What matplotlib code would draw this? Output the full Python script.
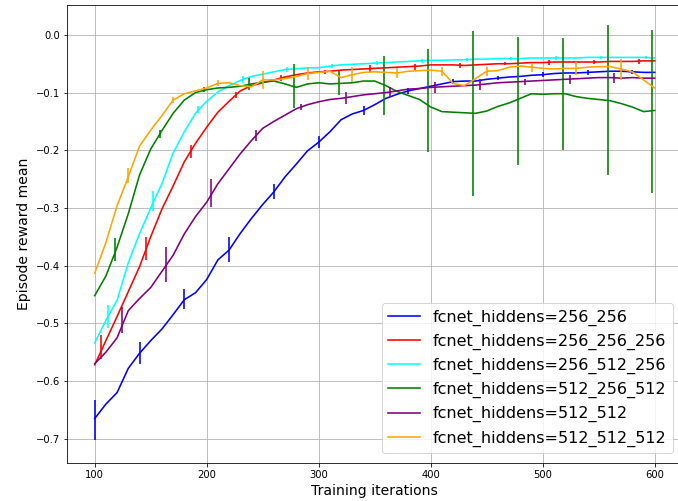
import numpy as np
import matplotlib
matplotlib.use("Agg")
import matplotlib.pyplot as plt

iterations = list(range(100, 601, 10))

labels = ["fcnet_hiddens=256_256", "fcnet_hiddens=256_256_256",
          "fcnet_hiddens=256_512_256", "fcnet_hiddens=512_256_512",
          "fcnet_hiddens=512_512", "fcnet_hiddens=512_512_512"]
colors = ["blue", "red", "cyan", "green", "purple", "orange"]

blue_y = [-0.665, -0.640, -0.620, -0.578, -0.552, -0.530, -0.510, -0.485, -0.459, -0.447,
          -0.424, -0.390, -0.373, -0.344, -0.318, -0.294, -0.272, -0.246, -0.224, -0.201,
          -0.186, -0.168, -0.147, -0.137, -0.131, -0.121, -0.110, -0.103, -0.097, -0.093,
          -0.089, -0.085, -0.081, -0.080, -0.080, -0.077, -0.075, -0.073, -0.072, -0.070,
          -0.069, -0.067, -0.066, -0.066, -0.065, -0.064, -0.063, -0.063, -0.064, -0.065,
          -0.065]
red_y = [-0.572, -0.530, -0.488, -0.445, -0.402, -0.350, -0.302, -0.262, -0.220, -0.188,
         -0.160, -0.134, -0.115, -0.097, -0.088, -0.083, -0.078, -0.073, -0.069, -0.066,
         -0.064, -0.063, -0.061, -0.060, -0.059, -0.058, -0.057, -0.056, -0.055, -0.054,
         -0.052, -0.052, -0.052, -0.053, -0.052, -0.051, -0.050, -0.050, -0.049, -0.048,
         -0.048, -0.047, -0.047, -0.047, -0.047, -0.047, -0.046, -0.046, -0.046, -0.045,
         -0.045]
cyan_y = [-0.534, -0.495, -0.460, -0.395, -0.345, -0.300, -0.258, -0.205, -0.168, -0.136,
          -0.115, -0.099, -0.088, -0.079, -0.072, -0.068, -0.064, -0.060, -0.059, -0.057,
          -0.057, -0.054, -0.052, -0.051, -0.050, -0.049, -0.048, -0.047, -0.046, -0.045,
          -0.044, -0.044, -0.0435, -0.043, -0.042, -0.042, -0.041, -0.041, -0.041, -0.040,
          -0.040, -0.040, -0.040, -0.040, -0.039, -0.039, -0.039, -0.039, -0.039, -0.039,
          -0.040]
green_y = [-0.452, -0.418, -0.368, -0.310, -0.243, -0.198, -0.166, -0.136, -0.113, -0.100,
           -0.095, -0.092, -0.091, -0.089, -0.085, -0.082, -0.080, -0.085, -0.091, -0.085,
           -0.083, -0.085, -0.084, -0.083, -0.080, -0.080, -0.088, -0.098, -0.105, -0.112,
           -0.125, -0.133, -0.134, -0.135, -0.136, -0.132, -0.124, -0.118, -0.110, -0.102,
           -0.103, -0.102, -0.102, -0.107, -0.110, -0.112, -0.114, -0.119, -0.125, -0.133,
           -0.131]
purple_y = [-0.570, -0.550, -0.525, -0.478, -0.457, -0.438, -0.410, -0.382, -0.345, -0.315,
            -0.290, -0.258, -0.232, -0.206, -0.183, -0.162, -0.150, -0.139, -0.128, -0.121,
            -0.116, -0.112, -0.110, -0.107, -0.104, -0.102, -0.100, -0.097, -0.094, -0.093,
            -0.091, -0.090, -0.089, -0.088, -0.087, -0.085, -0.083, -0.082, -0.081, -0.080,
            -0.079, -0.078, -0.077, -0.076, -0.075, -0.074, -0.074, -0.075, -0.074, -0.075,
            -0.075]
orange_y = [-0.413, -0.360, -0.296, -0.246, -0.193, -0.165, -0.140, -0.113, -0.102, -0.097,
            -0.092, -0.084, -0.083, -0.088, -0.090, -0.078, -0.078, -0.076, -0.072, -0.067,
            -0.065, -0.063, -0.074, -0.069, -0.065, -0.064, -0.065, -0.066, -0.063, -0.062,
            -0.061, -0.063, -0.084, -0.088, -0.076, -0.063, -0.062, -0.056, -0.054, -0.056,
            -0.058, -0.059, -0.058, -0.058, -0.056, -0.055, -0.055, -0.059, -0.064, -0.078,
            -0.092]

# error bars (x position, centre, half-length)
blue_ex = [100, 140, 180, 220, 260, 300, 340, 380, 420, 460, 500, 540, 580]
blue_ey = [-0.668, -0.552, -0.458, -0.372, -0.272, -0.186, -0.131, -0.097, -0.081, -0.075, -0.069, -0.065, -0.064]
blue_eh = [0.035, 0.019, 0.018, 0.021, 0.013, 0.010, 0.007, 0.005, 0.004, 0.004, 0.004, 0.004, 0.004]

red_ex = [106, 146, 186, 226, 266, 306, 346, 386, 426, 466, 506, 546, 586]
red_ey = [-0.541, -0.370, -0.202, -0.104, -0.075, -0.064, -0.058, -0.055, -0.053, -0.050, -0.048, -0.047, -0.046]
red_eh = [0.020, 0.020, 0.011, 0.005, 0.005, 0.004, 0.006, 0.005, 0.004, 0.003, 0.004, 0.003, 0.005]

cyan_ex = [112, 152, 192, 232, 272, 312, 352, 392, 432, 472, 512, 552, 592]
cyan_ey = [-0.488, -0.288, -0.130, -0.077, -0.060, -0.054, -0.049, -0.045, -0.043, -0.041, -0.040, -0.039, -0.039]
cyan_eh = [0.020, 0.017, 0.006, 0.006, 0.005, 0.003, 0.003, 0.003, 0.003, 0.003, 0.003, 0.003, 0.003]

green_ex = [118, 158, 198, 238, 278, 318, 358, 398, 438, 478, 518, 558, 598]
green_ey = [-0.372, -0.172, -0.095, -0.085, -0.089, -0.084, -0.088, -0.114, -0.137, -0.114, -0.102, -0.113, -0.133]
green_eh = [0.020, 0.007, 0.004, 0.011, 0.038, 0.021, 0.051, 0.089, 0.143, 0.111, 0.097, 0.130, 0.141]

purple_ex = [124, 164, 204, 244, 284, 324, 364, 404, 444, 484, 524, 564]
purple_ey = [-0.494, -0.398, -0.274, -0.174, -0.125, -0.109, -0.099, -0.091, -0.086, -0.081, -0.077, -0.075]
purple_eh = [0.022, 0.031, 0.025, 0.010, 0.006, 0.010, 0.009, 0.009, 0.010, 0.005, 0.008, 0.009]

orange_ex = [130, 170, 210, 250, 290, 330, 370, 410, 450, 490, 530, 570]
orange_ey = [-0.244, -0.113, -0.084, -0.078, -0.067, -0.069, -0.066, -0.063, -0.063, -0.056, -0.058, -0.060]
orange_eh = [0.013, 0.005, 0.005, 0.016, 0.012, 0.013, 0.008, 0.008, 0.008, 0.008, 0.011, 0.019]

series_y = [blue_y, red_y, cyan_y, green_y, purple_y, orange_y]
series_err = [(blue_ex, blue_ey, blue_eh), (red_ex, red_ey, red_eh),
              (cyan_ex, cyan_ey, cyan_eh), (green_ex, green_ey, green_eh),
              (purple_ex, purple_ey, purple_eh), (orange_ex, orange_ey, orange_eh)]

fig = plt.figure(figsize=(678 / 72, 501 / 72), dpi=72)
ax = fig.add_axes([66.7 / 678, (501 - 462.7) / 501, 616 / 678, (462.7 - 5.3) / 501])

for y, (ex, ey, eh), c, lab in zip(series_y, series_err, colors, labels):
    ax.plot(iterations, y, color=c, lw=1.6, label=lab)
    ax.errorbar(ex, ey, yerr=eh, fmt="none", ecolor=c, elinewidth=1.6)

ax.set_xlim(75, 625)
ax.set_ylim(-0.7416, 0.0513)
ax.set_xticks([100, 200, 300, 400, 500, 600])
ax.set_yticks([0.0, -0.1, -0.2, -0.3, -0.4, -0.5, -0.6, -0.7])
ax.tick_params(labelsize=10)
ax.grid(True)
ax.spines["right"].set_visible(False)
ax.set_xlabel("Training iterations", fontsize=14)
ax.set_ylabel("Episode reward mean", fontsize=14)
ax.legend(loc="lower right", fontsize=16, borderaxespad=0.6)

fig.savefig("out.png", dpi=72)
